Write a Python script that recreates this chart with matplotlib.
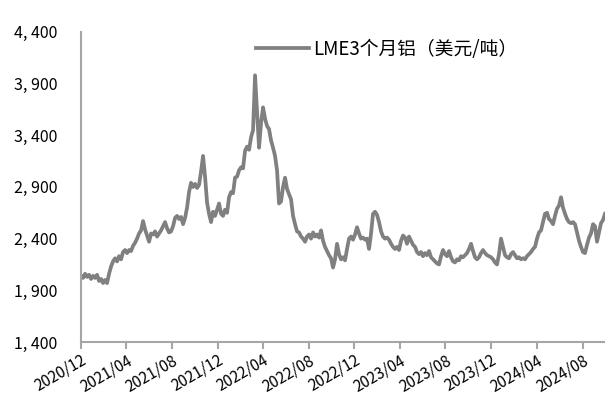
import matplotlib
matplotlib.use("Agg")
import matplotlib.pyplot as plt
import matplotlib.dates as mdates
import pandas as pd

plt.rcParams['font.family'] = ['Noto Sans CJK SC', 'DejaVu Sans']

# LME 3-month aluminium, USD/t, sampled roughly every 5 days
start_date = '2020-12-01'
end_date = '2024-09-30'
price = [
    2040, 2020, 2060, 2030, 2050, 2010, 2040, 2020, 2050, 1990,
    2010, 1970, 2000, 1970, 2060, 2130, 2180, 2210, 2180, 2230,
    2200, 2270, 2290, 2260, 2290, 2280, 2330, 2360, 2400, 2450,
    2480, 2570, 2490, 2430, 2370, 2450, 2440, 2470, 2420, 2450,
    2480, 2520, 2560, 2500, 2460, 2470, 2520, 2600, 2620, 2590,
    2610, 2540, 2600, 2700, 2850, 2940, 2900, 2930, 2890, 2920,
    3050, 3200, 3000, 2750, 2640, 2560, 2660, 2620, 2680, 2740,
    2640, 2620, 2680, 2650, 2800, 2850, 2840, 2990, 3000, 3060,
    3090, 3080, 3250, 3290, 3260, 3380, 3450, 3980, 3620, 3280,
    3520, 3670, 3560, 3490, 3460, 3350, 3280, 3200, 3060, 2740,
    2760, 2900, 2990, 2880, 2830, 2780, 2620, 2540, 2470, 2460,
    2420, 2400, 2370, 2420, 2440, 2400, 2460, 2420, 2440, 2410,
    2480, 2380, 2320, 2280, 2240, 2210, 2120, 2200, 2350, 2250,
    2200, 2220, 2190, 2300, 2400, 2420, 2390, 2440, 2510, 2450,
    2400, 2410, 2390, 2400, 2300, 2450, 2640, 2660, 2630, 2560,
    2470, 2420, 2400, 2410, 2390, 2350, 2320, 2300, 2320, 2290,
    2380, 2430, 2410, 2350, 2420, 2380, 2340, 2320, 2270, 2250,
    2270, 2230, 2260, 2240, 2280, 2220, 2200, 2180, 2160, 2150,
    2230, 2290, 2250, 2230, 2280, 2220, 2180, 2170, 2200, 2190,
    2230, 2220, 2240, 2260, 2300, 2350, 2280, 2220, 2200, 2220,
    2260, 2290, 2260, 2240, 2230, 2220, 2200, 2170, 2150, 2250,
    2400, 2320, 2240, 2220, 2210, 2250, 2270, 2240, 2210, 2220,
    2200, 2210, 2200, 2230, 2250, 2270, 2300, 2320, 2400, 2460,
    2480, 2560, 2640, 2650, 2590, 2570, 2540, 2620, 2690, 2720,
    2800, 2700, 2640, 2590, 2560, 2550, 2560, 2540, 2460, 2380,
    2320, 2270, 2260, 2340, 2410, 2450, 2540, 2520, 2370, 2460,
    2550, 2580, 2640,
]
dates = pd.date_range(start_date, end_date, periods=len(price))

y_ticks = [1400, 1900, 2400, 2900, 3400, 3900, 4400]
x_ticks = pd.date_range('2020-12-01', '2024-08-01', freq='4MS')

fig = plt.figure(figsize=(6.05, 3.94), dpi=100)
ax = fig.add_axes([0.134, 0.132, 0.866, 0.787])

ax.plot(dates, price, color='#808080', lw=2.7, solid_joinstyle='round',
        label='LME3个月铝（美元/吨）')

ax.set_ylim(1400, 4400)
ax.set_yticks(y_ticks)
ax.set_yticklabels([f'{v:,}'.replace(',', ', ') for v in y_ticks])
ax.set_xlim(pd.Timestamp(start_date), pd.Timestamp(end_date))
ax.set_xticks(x_ticks)
ax.xaxis.set_major_formatter(mdates.DateFormatter('%Y/%m'))

for s in ['top', 'right']:
    ax.spines[s].set_visible(False)
for s in ['left', 'bottom']:
    ax.spines[s].set_color('#a6a6a6')
    ax.spines[s].set_linewidth(1.5)

ax.tick_params(axis='y', length=0, pad=17, labelsize=11.5)
ax.tick_params(axis='x', length=5, width=1.5, color='#a6a6a6', labelsize=11, pad=2)
plt.setp(ax.get_xticklabels(), rotation=30, ha='right', rotation_mode='anchor')

ax.legend(loc='center left', bbox_to_anchor=(256 / 605, 1 - 49 / 394),
          bbox_transform=fig.transFigure, frameon=False, borderpad=0,
          borderaxespad=0, prop={'size': 13.5, 'weight': 'medium'},
          handlelength=2.8, handletextpad=0.25)

fig.savefig('out.png', dpi=100)
